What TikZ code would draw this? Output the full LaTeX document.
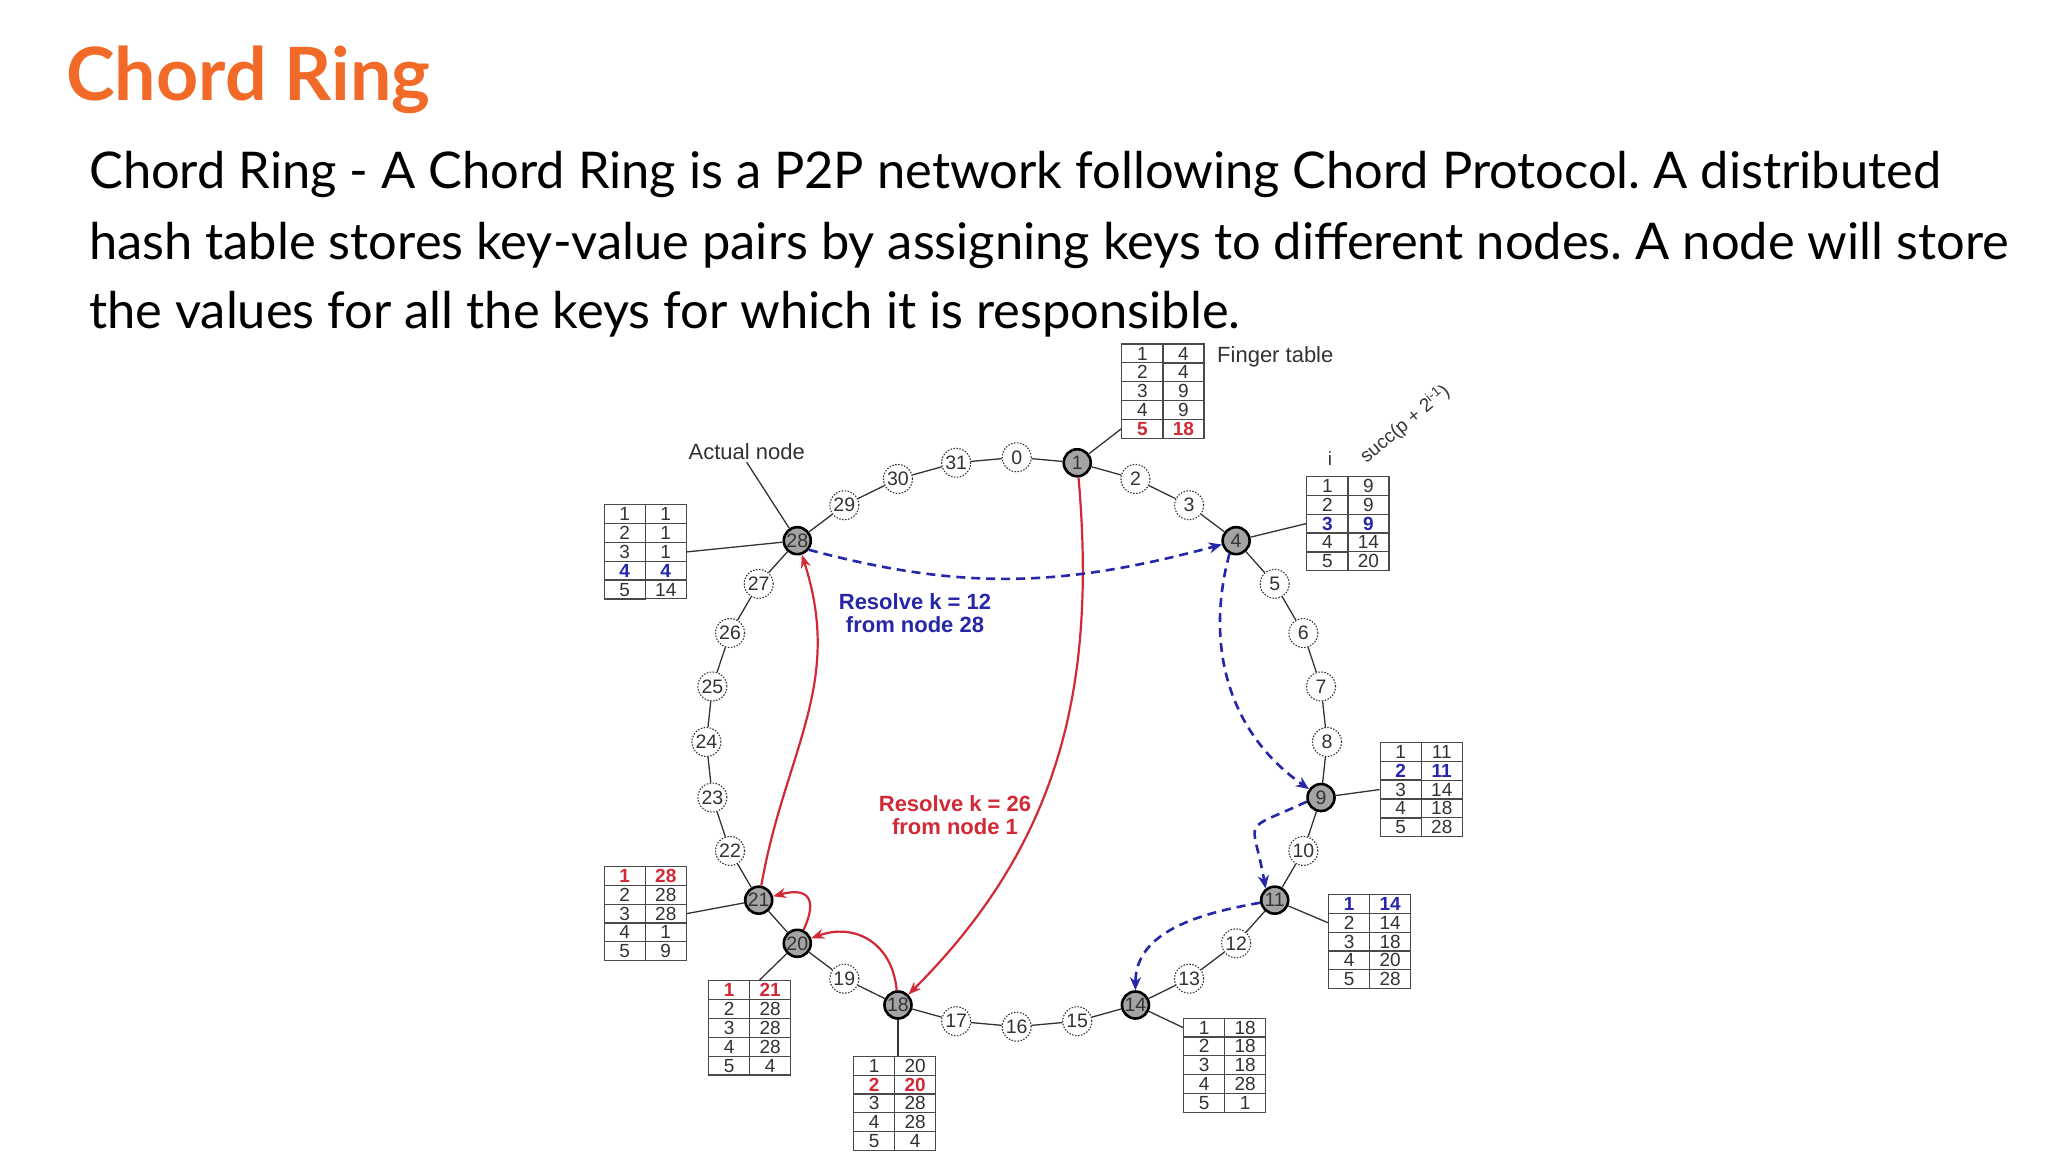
\documentclass[tikz,border=0pt]{standalone}
\usepackage{fontspec}
\setmainfont{Lato}
\newfontfamily\figfont{Liberation Sans}
\usetikzlibrary{arrows.meta,matrix}

\definecolor{titleorange}{HTML}{F26A28}
\definecolor{resred}{HTML}{D12A36}
\definecolor{resblue}{HTML}{2626A8}
\definecolor{peergray}{HTML}{A4A4A4}
\definecolor{inkgray}{HTML}{333333}
\definecolor{tabline}{HTML}{4A4A4A}

\begin{document}
\frenchspacing
\begin{tikzpicture}[
    x=1pt, y=1pt,
    lbl/.style={font=\figfont\fontsize{22}{22}\selectfont, text=inkgray, inner sep=2pt},
    peer/.style={circle, draw=black, line width=2.6pt, fill=peergray, minimum size=27pt, inner sep=0pt, font=\figfont\fontsize{19.5}{19.5}\selectfont, text=inkgray},
    slot/.style={circle, draw=inkgray, line width=1.1pt, dash pattern=on 1.5pt off 1.5pt, fill=white, minimum size=29pt, inner sep=0pt, font=\figfont\fontsize{19.5}{19.5}\selectfont, text=inkgray},
    ringedge/.style={draw=inkgray, line width=1.3pt},
    cell/.style={draw=tabline, line width=1.2pt, minimum width=41.1pt, minimum height=18.8pt, inner sep=0pt, font=\figfont\fontsize{19}{19}\selectfont, text=inkgray},
    ftab/.style={matrix of nodes, nodes={cell}, column sep=-1.2pt, row sep=-1.2pt, inner sep=0pt, anchor=north west},
    hlred/.style={text=resred, font=\figfont\bfseries\fontsize{19}{19}\selectfont},
    hlblue/.style={text=resblue, font=\figfont\bfseries\fontsize{19}{19}\selectfont},
    lookup/.style={-{Stealth[length=13pt, width=10pt]}, draw=resred, line width=2.2pt},
    hop/.style={-{Stealth[length=13pt, width=11pt]}, draw=resblue, line width=2.6pt, dash pattern=on 9pt off 6pt}
]
    \useasboundingbox (0,0) rectangle (2048,1152);
    \fill[white] (0,0) rectangle (2048,1152);

    % Heading and description
    \node[anchor=base west, inner sep=0pt, font=\bfseries\fontsize{73.5}{73.5}\selectfont, text=titleorange] (title) at (66,1051) {Chord Ring};
    \node[anchor=base west, inner sep=0pt, font=\fontsize{50.6}{50.6}\selectfont] (desc1) at (89,963) {Chord Ring - A Chord Ring is a P2P network following Chord Protocol. A distributed};
    \node[anchor=base west, inner sep=0pt, font=\fontsize{50.6}{50.6}\selectfont] (desc2) at (89,892) {hash table stores key-value pairs by assigning keys to different nodes. A node will store};
    \node[anchor=base west, inner sep=0pt, font=\fontsize{50.6}{50.6}\selectfont] (desc3) at (89,823) {the values for all the keys for which it is responsible.};

    % Identifier ring
    \begin{scope}[shift={(1016.7,410)}]
    \foreach \k in {0,2,3,5,6,7,8,10,12,13,15,16,17,19,22,23,24,25,26,27,29,30,31}
        \node[slot] (r\k) at ({90-11.25*\k}:310.3 and 284.7) {\k};
    \foreach \k in {1,4,9,11,14,18,20,21,28}
        \node[peer] (r\k) at ({90-11.25*\k}:310.3 and 284.7) {\k};
    \end{scope}
    \foreach \k in {0,...,31} {
        \pgfmathtruncatemacro\nxt{mod(\k+1,32)}
        \draw[ringedge] (r\k) -- (r\nxt);
    }

    % Finger tables
    \matrix[ftab] (t1) at (1121,808.7) {
        1 & 4 \\ 2 & 4 \\ 3 & 9 \\ 4 & 9 \\ |[hlred]| 5 & |[hlred]| 18 \\
    };
    \matrix[ftab] (t4) at (1306,676.3) {
        1 & 9 \\ 2 & 9 \\ |[hlblue]| 3 & |[hlblue]| 9 \\ 4 & 14 \\ 5 & 20 \\
    };
    \matrix[ftab] (t9) at (1379.3,410.3) {
        1 & 11 \\ |[hlblue]| 2 & |[hlblue]| 11 \\ 3 & 14 \\ 4 & 18 \\ 5 & 28 \\
    };
    \matrix[ftab] (t11) at (1327.7,258.3) {
        |[hlblue]| 1 & |[hlblue]| 14 \\ 2 & 14 \\ 3 & 18 \\ 4 & 20 \\ 5 & 28 \\
    };
    \matrix[ftab] (t14) at (1182.7,134.7) {
        1 & 18 \\ 2 & 18 \\ 3 & 18 \\ 4 & 28 \\ 5 & 1 \\
    };
    \matrix[ftab] (t18) at (852.7,96.5) {
        1 & 20 \\ |[hlred]| 2 & |[hlred]| 20 \\ 3 & 28 \\ 4 & 28 \\ 5 & 4 \\
    };
    \matrix[ftab] (t20) at (707.7,172) {
        |[hlred]| 1 & |[hlred]| 21 \\ 2 & 28 \\ 3 & 28 \\ 4 & 28 \\ 5 & 4 \\
    };
    \matrix[ftab] (t21) at (603.3,286.3) {
        |[hlred]| 1 & |[hlred]| 28 \\ 2 & 28 \\ 3 & 28 \\ 4 & 1 \\ 5 & 9 \\
    };
    \matrix[ftab] (t28) at (603.3,648) {
        1 & 1 \\ 2 & 1 \\ 3 & 1 \\ |[hlblue]| 4 & |[hlblue]| 4 \\ 5 & 14 \\
    };

    % Node to table links
    \draw[ringedge] (r1) -- (t1-5-1.west);
    \draw[ringedge] (r4) -- (t4-3-1.west);
    \draw[ringedge] (r9) -- (t9-3-1.west);
    \draw[ringedge] (r11) -- (t11-2-1.west);
    \draw[ringedge] (r14) -- (t14-1-1.west);
    \draw[ringedge] (r18) -- (r18 |- t18.north);
    \draw[ringedge] (r20) -- ([xshift=10pt]t20.north);
    \draw[ringedge] (r21) -- (t21-3-2.east);
    \draw[ringedge] (r28) -- (t28-3-2.east);

    % Labels
    \node[lbl] (actlbl) at (746.7,700) {Actual node};
    \draw[ringedge] (actlbl.south) -- (r28);
    \node[lbl, anchor=west] (fingerlbl) at (1215,795.3) {Finger table};
    \node[lbl, font=\figfont\fontsize{19}{19}\selectfont] (ilbl) at (1330,693.7) {i};
    \node[lbl, anchor=base west, rotate=40, font=\figfont\fontsize{19}{19}\selectfont] (succlbl) at (1365,687) {succ(p + 2\textsuperscript{i-1})};
    \node[font=\figfont\bfseries\fontsize{22}{23.5}\selectfont, text=resblue, align=center] (q12) at (915,538.7) {Resolve k = 12\\from node 28};
    \node[font=\figfont\bfseries\fontsize{22}{23.5}\selectfont, text=resred, align=center] (q26) at (955,337) {Resolve k = 26\\from node 1};

    % Lookup of k = 26 from node 1
    \draw[lookup] (r1) to[out=-85, in=45] (r18);
    \draw[lookup] (r18) to[out=95, in=20, looseness=1.2] (r20);
    \draw[lookup] (r20) to[out=65, in=15, looseness=2] (r21);
    \draw[lookup] (r21) to[out=80, in=-72, looseness=1.05] (r28);

    % Lookup of k = 12 from node 28
    \draw[hop] (r28.-38) to[out=-15, in=-165] (r4);
    \draw[hop] (r4.-117) to[out=-105, in=145] (r9);
    \draw[hop] (r9.196) to[out=205, in=100, looseness=2] (r11.128);
    \draw[hop] (r11) to[out=190, in=90] (r14);
\end{tikzpicture}
\end{document}
